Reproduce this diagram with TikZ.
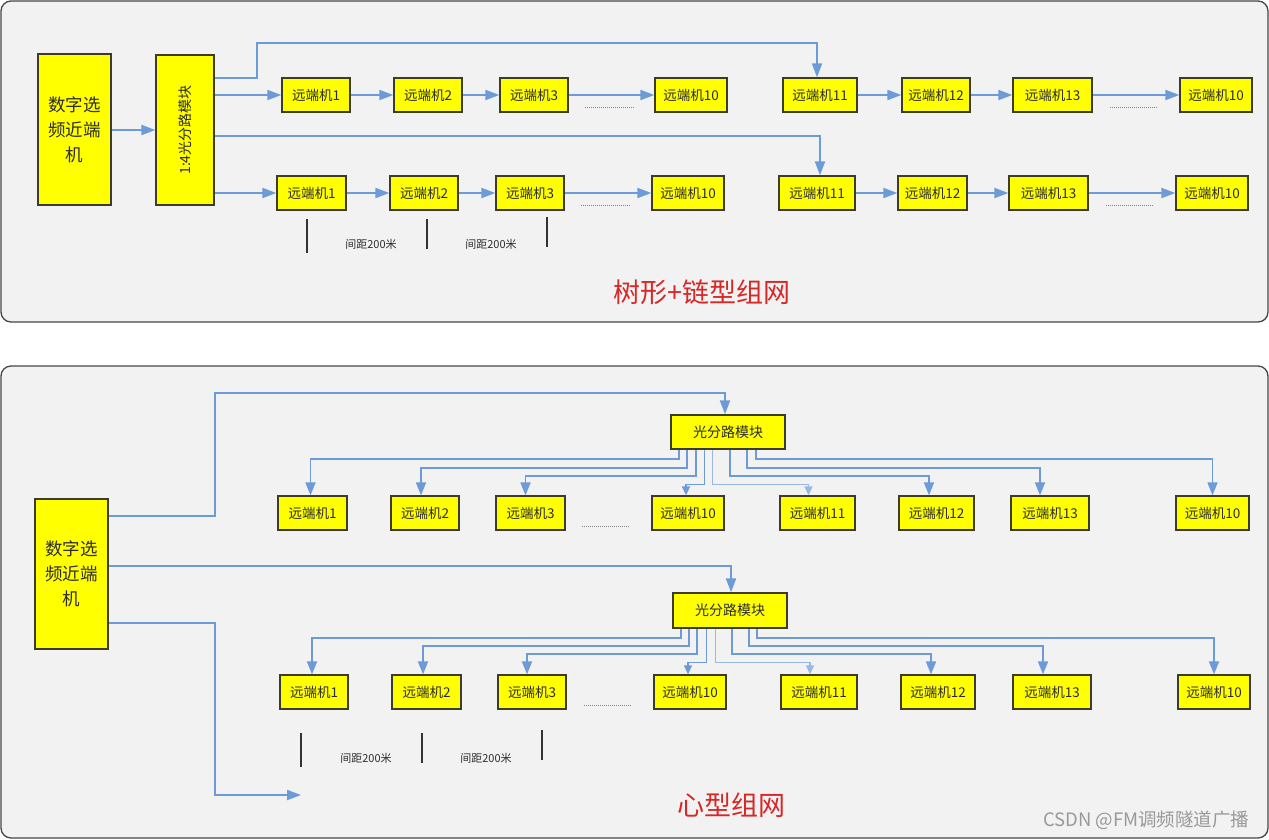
\documentclass[tikz,border=0pt]{standalone}
\usepackage{fontspec}
\newfontfamily\cjk{Noto Sans CJK SC}
\usetikzlibrary{arrows.meta}
\definecolor{lineblue}{RGB}{108,155,215}
\definecolor{boxyel}{RGB}{255,255,0}
\definecolor{boxedge}{RGB}{60,60,40}
\definecolor{panelfill}{RGB}{242,242,242}
\definecolor{paneledge}{RGB}{70,70,70}
\definecolor{titlered}{RGB}{215,40,40}
\definecolor{txt}{RGB}{45,45,45}
\tikzset{
 panel/.style={draw=paneledge, fill=panelfill, line width=1.3pt, rounded corners=10pt},
 ybox/.style={draw=boxedge, fill=boxyel, line width=1.3pt, inner sep=0pt, text=txt},
 rbox/.style={ybox, minimum height=34pt, font=\cjk\fontsize{13.5}{15}\selectfont},
 bigbox/.style={ybox, align=center, font=\cjk\fontsize{17.5}{25}\selectfont},
 arr/.style={draw=lineblue, line width=2pt, -{Triangle[length=14pt,width=10pt]}},
 fan/.style={draw=lineblue, line width=1.8pt, -{Triangle[length=13pt,width=10pt]}},
 fansmall/.style={draw=lineblue, line width=1.5pt, -{Triangle[length=9pt,width=8pt]}},
 ellip/.style={draw=gray, line width=1pt, dash pattern=on 1pt off 1pt},
 gaptick/.style={draw=black!80, line width=1.3pt},
 gaplabel/.style={font=\cjk\fontsize{11}{13}\selectfont, text=txt},
 nettitle/.style={font=\cjk\fontsize{27}{32}\selectfont, text=titlered},
}
\begin{document}
\begin{tikzpicture}[x=1pt,y=-1pt]
\useasboundingbox[fill=white] (0,0) rectangle (1269,839);
% panels
\draw[panel] (1,1) rectangle (1268,322);
\draw[panel] (1,366) rectangle (1268,838);

% ===== top panel =====
\node[bigbox, minimum width=73pt, minimum height=151pt] (nT) at (74.5,129.5) {数字选\\频近端\\机};
\node[ybox, minimum width=58pt, minimum height=150pt] (split) at (185,130) {};
\node[rotate=90, font=\cjk\fontsize{14}{16}\selectfont, text=txt] (splitlabel) at (split) {1:4光分路模块};

\node[rbox, minimum width=68pt] (t1) at (316,95) {远端机1};
\node[rbox, minimum width=68pt] (t2) at (428,95) {远端机2};
\node[rbox, minimum width=68pt] (t3) at (534,95) {远端机3};
\node[rbox, minimum width=72pt] (t10) at (691,95) {远端机10};
\node[rbox, minimum width=74pt] (t11) at (820,95) {远端机11};
\node[rbox, minimum width=68pt] (t12) at (936,95) {远端机12};
\node[rbox, minimum width=79pt] (t13) at (1052.5,95) {远端机13};
\node[rbox, minimum width=72pt] (t10b) at (1216,95) {远端机10};

\node[rbox, minimum width=69pt] (u1) at (311.5,193) {远端机1};
\node[rbox, minimum width=68pt] (u2) at (424,193) {远端机2};
\node[rbox, minimum width=68pt] (u3) at (530,193) {远端机3};
\node[rbox, minimum width=72pt] (u10) at (688,193) {远端机10};
\node[rbox, minimum width=76pt] (u11) at (817,193) {远端机11};
\node[rbox, minimum width=69pt] (u12) at (932.5,193) {远端机12};
\node[rbox, minimum width=79pt] (u13) at (1048.5,193) {远端机13};
\node[rbox, minimum width=72pt] (u10b) at (1212,193) {远端机10};

\draw[arr] (nT.east |- split) -- (split.west);
\draw[arr] ([yshift=-24pt]split.north east) -| (257,43) -| ([xshift=-3pt]t11.north);
\draw[arr] (split.east |- t1) -- (t1.west);
\draw[arr] (split.east |- 0,136) -| ([xshift=3pt]u11.north);
\draw[arr] (split.east |- u1) -- (u1.west);

\draw[arr] (t1) -- (t2);
\draw[arr] (t2) -- (t3);
\draw[arr] (t3) -- (t10);
\draw[arr] (t11) -- (t12);
\draw[arr] (t12) -- (t13);
\draw[arr] (t13) -- (t10b);
\draw[arr] (u1) -- (u2);
\draw[arr] (u2) -- (u3);
\draw[arr] (u3) -- (u10);
\draw[arr] (u11) -- (u12);
\draw[arr] (u12) -- (u13);
\draw[arr] (u13) -- (u10b);

\draw[ellip] (585,107) -- (634,107);
\draw[ellip] (1110,107) -- (1158,107);
\draw[ellip] (581,205) -- (630,205);
\draw[ellip] (1106,205) -- (1154,205);

\draw[gaptick] (307,219) -- (307,253);
\draw[gaptick] (427,219) -- (427,249);
\draw[gaptick] (547,217) -- (547,247);
\node[gaplabel] (gapT1) at (371,244) {间距200米};
\node[gaplabel] (gapT2) at (491,244) {间距200米};

\node[nettitle] (titleT) at (702,292) {树形+链型组网};

% ===== bottom panel =====
\node[bigbox, minimum width=73pt, minimum height=150pt] (nB) at (71.5,574) {数字选\\频近端\\机};
\node[ybox, minimum width=114pt, minimum height=34pt, font=\cjk\fontsize{14}{16}\selectfont] (sA) at (728,432) {光分路模块};
\node[ybox, minimum width=114pt, minimum height=35pt, font=\cjk\fontsize{14}{16}\selectfont] (sB) at (730,610.5) {光分路模块};

\node[rbox, minimum width=69pt] (a1) at (312.5,513) {远端机1};
\node[rbox, minimum width=68pt] (a2) at (425,513) {远端机2};
\node[rbox, minimum width=69pt] (a3) at (530.5,513) {远端机3};
\node[rbox, minimum width=72pt] (a10) at (688,513) {远端机10};
\node[rbox, minimum width=75pt] (a11) at (817.5,513) {远端机11};
\node[rbox, minimum width=75pt] (a12) at (936.5,513) {远端机12};
\node[rbox, minimum width=78pt] (a13) at (1050,513) {远端机13};
\node[rbox, minimum width=73pt] (a10b) at (1212.5,513) {远端机10};

\node[rbox, minimum width=68pt] (b1) at (314,692) {远端机1};
\node[rbox, minimum width=69pt] (b2) at (426.5,692) {远端机2};
\node[rbox, minimum width=68pt] (b3) at (532,692) {远端机3};
\node[rbox, minimum width=72pt] (b10) at (690,692) {远端机10};
\node[rbox, minimum width=76pt] (b11) at (819,692) {远端机11};
\node[rbox, minimum width=74pt] (b12) at (938,692) {远端机12};
\node[rbox, minimum width=78pt] (b13) at (1052,692) {远端机13};
\node[rbox, minimum width=72pt] (b10b) at (1214,692) {远端机10};

\coordinate (freeEnd) at (301,795);
\draw[arr] (nB.east |- 0,516) -| (215,393) -| ([xshift=-3pt]sA.north);
\draw[arr] (nB.east |- 0,566) -| ([xshift=1pt]sB.north);
\draw[arr] (nB.east |- 0,623) -| (215,795) -- (freeEnd);

% fan-out A
\draw[fan] ([xshift=9pt]sA.south west) -- ++(0,9) -| ([xshift=-2pt]a1.north);
\draw[fan] ([xshift=17pt]sA.south west) -- ++(0,18) -| ([xshift=-4pt]a2.north);
\draw[fan] ([xshift=26pt]sA.south west) -- ++(0,26) -| ([xshift=-5pt]a3.north);
\draw[fansmall] ([xshift=34pt]sA.south west) -- ++(0,35) -| ([xshift=-2pt]a10.north);
\draw[fansmall, draw=lineblue!70] ([xshift=42pt]sA.south west) -- ++(0,35) -| ([xshift=-9pt]a11.north);
\draw[fan] ([xshift=60pt]sA.south west) -- ++(0,26) -| ([xshift=-7.5pt]a12.north);
\draw[fan] ([xshift=77pt]sA.south west) -- ++(0,18) -| ([xshift=-10pt]a13.north);
\draw[fan] ([xshift=86pt]sA.south west) -- ++(0,9) -| (a10b.north);

% fan-out B
\draw[fan] ([xshift=9pt]sB.south west) -- ++(0,9) -| ([xshift=-2pt]b1.north);
\draw[fan] ([xshift=17pt]sB.south west) -- ++(0,17) -| ([xshift=-3.5pt]b2.north);
\draw[fan] ([xshift=25pt]sB.south west) -- ++(0,25) -| ([xshift=-5pt]b3.north);
\draw[fansmall] ([xshift=34pt]sB.south west) -- ++(0,34) -| ([xshift=-2pt]b10.north);
\draw[fansmall, draw=lineblue!70] ([xshift=43pt]sB.south west) -- ++(0,34) -| ([xshift=-9pt]b11.north);
\draw[fan] ([xshift=60pt]sB.south west) -- ++(0,25) -| ([xshift=-7pt]b12.north);
\draw[fan] ([xshift=77pt]sB.south west) -- ++(0,17) -| ([xshift=-9pt]b13.north);
\draw[fan] ([xshift=85pt]sB.south west) -- ++(0,9) -| (b10b.north);

\draw[ellip] (582,526) -- (630,526);
\draw[ellip] (584,705) -- (632,705);

\draw[gaptick] (301,733) -- (301,767);
\draw[gaptick] (422,733) -- (422,763);
\draw[gaptick] (542,730) -- (542,760);
\node[gaplabel] (gapB1) at (366,758) {间距200米};
\node[gaplabel] (gapB2) at (486,758) {间距200米};

\node[nettitle] (titleB) at (731,805) {心型组网};
\node[font=\cjk\fontsize{18.5}{21}\selectfont, text=black!40, anchor=east] (wm) at (1253,820) {CSDN @FM调频隧道广播};
\end{tikzpicture}
\end{document}
